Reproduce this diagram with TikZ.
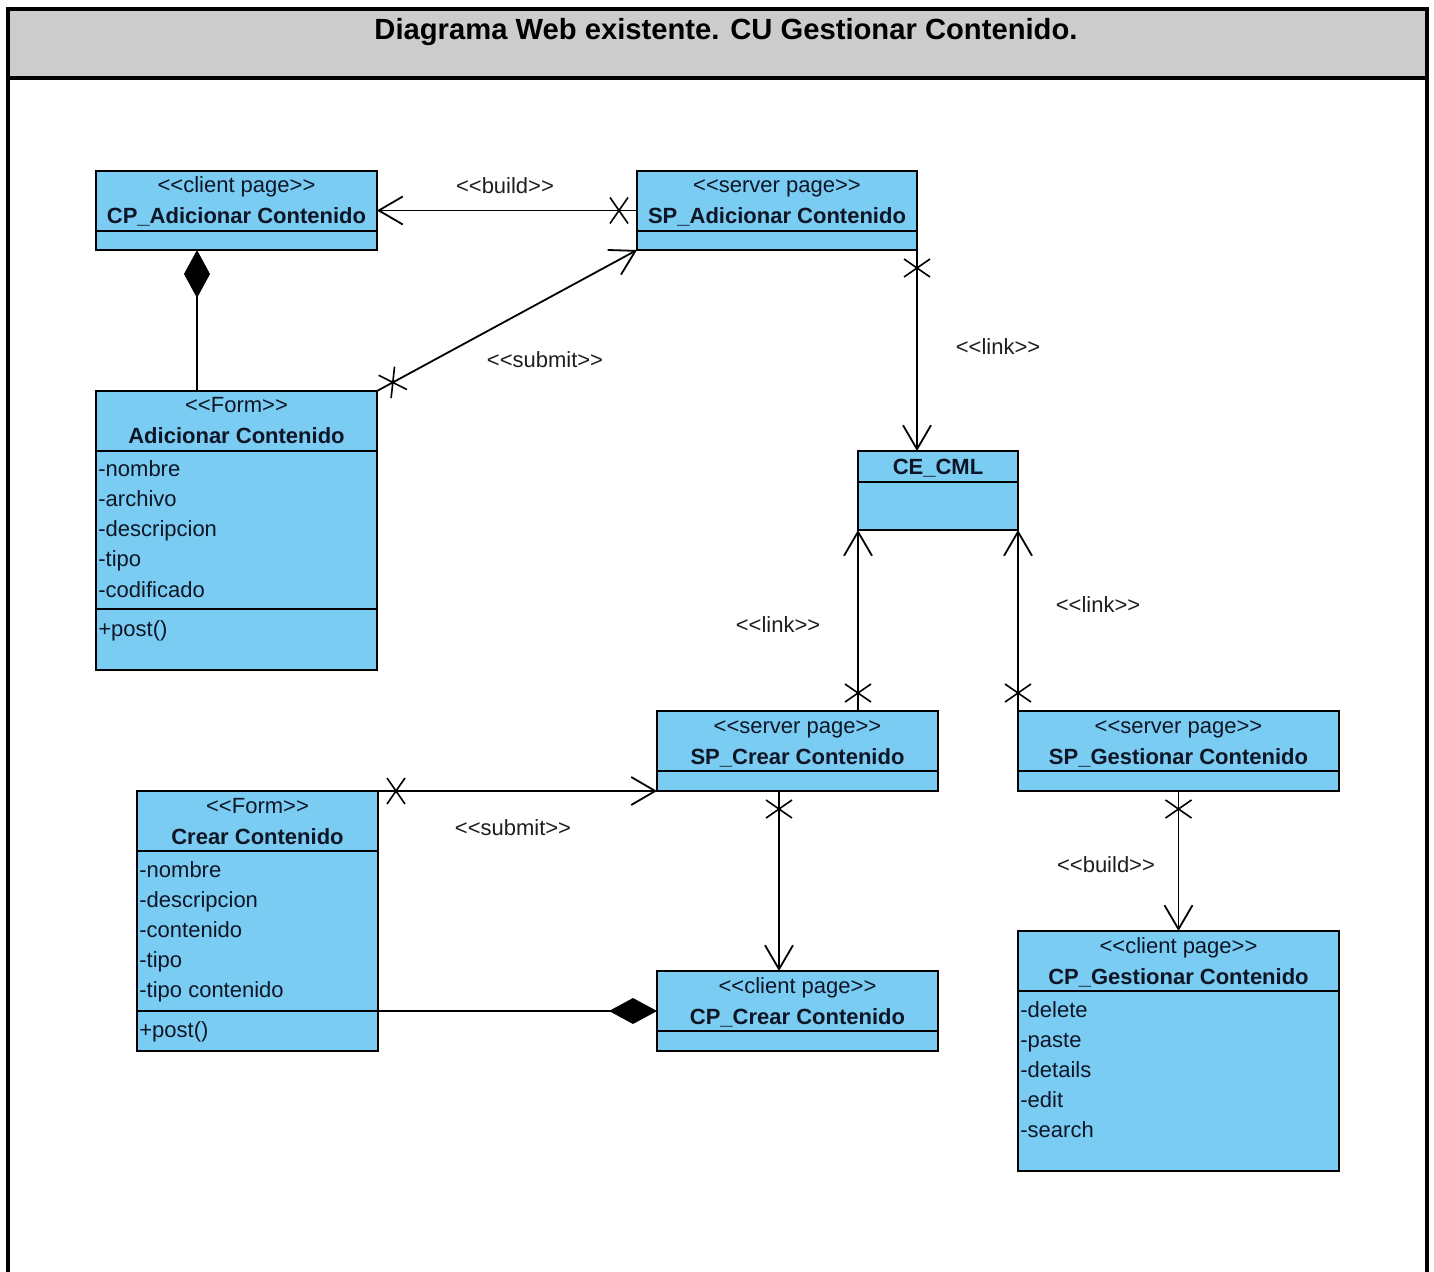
\documentclass[tikz,border=0pt]{standalone}
\usepackage{fontspec}
\setmainfont{Liberation Sans}
\usetikzlibrary{arrows.meta,fit,decorations.markings,calc}

\definecolor{boxblue}{RGB}{122,204,242}
\definecolor{boxtext}{RGB}{14,22,38}
\definecolor{lbltext}{RGB}{30,30,30}
\definecolor{titlegray}{RGB}{204,204,204}

% stereotype brackets, kept apart so they are not turned into guillemets
\newcommand{\sttext}[1]{<{}<#1>{}>}

\begin{document}
\begin{tikzpicture}[
  x=0.5pt, y=-0.5pt,
  box/.style={draw=black, line width=1pt, fill=boxblue, inner sep=0pt, outer sep=0pt, rectangle},
  sepline/.style={line width=1pt},
  stereo/.style={anchor=base, inner sep=0pt, text=boxtext, font=\fontsize{11}{13}\selectfont},
  cname/.style={anchor=base, inner sep=0pt, text=boxtext, font=\bfseries\fontsize{11}{13}\selectfont},
  attr/.style={anchor=base west, inner sep=0pt, text=boxtext, font=\fontsize{11}{13}\selectfont},
  lbl/.style={inner sep=0pt, text=lbltext, font=\fontsize{11}{13}\selectfont},
  conn/.style={line width=0.9pt, -{Straight Barb[length=12pt,width=14pt]}},
  comp/.style={line width=0.9pt, {Diamond[length=24pt,width=13pt]}-},
  xmark/.style={postaction={decorate, decoration={markings,
      mark=at position 9pt with {\draw[-, line width=0.8pt] (-4.5pt,-6.5pt) -- (4.5pt,6.5pt) (-4.5pt,6.5pt) -- (4.5pt,-6.5pt);}}}},
]
\useasboundingbox (0,0) rectangle (1434,1272);
\clip (0,0) rectangle (1434,1272);

% frame and title bar
\fill[titlegray] (8,9) rectangle (1427,78);
\draw[line width=2pt, line join=miter] (8,1300) -- (8,9) -- (1427,9) -- (1427,1300);
\draw[line width=2pt] (8,78) -- (1427,78);
\node[anchor=base, inner sep=0pt, font=\bfseries\fontsize{14.6}{17}\selectfont] (title) at (726,40)
  {Diagrama Web existente. CU Gestionar Contenido.};

% CP_Adicionar Contenido
\node[box, fit={(96,171)(377,250)}] (cpadd) {};
\draw[sepline] (96,231) -- (377,231);
\node[stereo] (cpadd-s) at (236.5,193) {\sttext{client page}};
\node[cname] (cpadd-n) at (236.5,224) {CP\_Adicionar Contenido};

% SP_Adicionar Contenido
\node[box, fit={(637,171)(917,250)}] (spadd) {};
\draw[sepline] (637,231) -- (917,231);
\node[stereo] (spadd-s) at (777,193) {\sttext{server page}};
\node[cname] (spadd-n) at (777,224) {SP\_Adicionar Contenido};

% Form Adicionar Contenido
\node[box, fit={(96,391)(377,670)}] (formadd) {};
\draw[sepline] (96,451) -- (377,451);
\draw[sepline] (96,609) -- (377,609);
\node[stereo] (formadd-s) at (236.5,413) {\sttext{Form}};
\node[cname] (formadd-n) at (236.5,444) {Adicionar Contenido};
\node[attr] (fa1) at (98,477) {-nombre};
\node[attr] (fa2) at (98,507) {-archivo};
\node[attr] (fa3) at (98,537) {-descripcion};
\node[attr] (fa4) at (98,567) {-tipo};
\node[attr] (fa5) at (98,597) {-codificado};
\node[attr] (fa6) at (98,636) {+post()};

% CE_CML
\node[box, fit={(858,451)(1018,530)}] (cecml) {};
\draw[sepline] (858,482) -- (1018,482);
\node[cname] (cecml-n) at (938,475) {CE\_CML};

% SP_Crear Contenido
\node[box, fit={(657,711)(938,791)}] (spcrear) {};
\draw[sepline] (657,771) -- (938,771);
\node[stereo] (spcrear-s) at (797.5,733) {\sttext{server page}};
\node[cname] (spcrear-n) at (797.5,764) {SP\_Crear Contenido};

% SP_Gestionar Contenido
\node[box, fit={(1018,711)(1339,791)}] (spgest) {};
\draw[sepline] (1018,771) -- (1339,771);
\node[stereo] (spgest-s) at (1178.5,733) {\sttext{server page}};
\node[cname] (spgest-n) at (1178.5,764) {SP\_Gestionar Contenido};

% Form Crear Contenido
\node[box, fit={(137,791)(378,1051)}] (formcrear) {};
\draw[sepline] (137,851) -- (378,851);
\draw[sepline] (137,1011) -- (378,1011);
\node[stereo] (formcrear-s) at (257.5,813) {\sttext{Form}};
\node[cname] (formcrear-n) at (257.5,844) {Crear Contenido};
\node[attr] (fc1) at (139,877) {-nombre};
\node[attr] (fc2) at (139,907) {-descripcion};
\node[attr] (fc3) at (139,937) {-contenido};
\node[attr] (fc4) at (139,967) {-tipo};
\node[attr] (fc5) at (139,997) {-tipo contenido};
\node[attr] (fc6) at (139,1037) {+post()};

% CP_Crear Contenido
\node[box, fit={(657,971)(938,1051)}] (cpcrear) {};
\draw[sepline] (657,1031) -- (938,1031);
\node[stereo] (cpcrear-s) at (797.5,993) {\sttext{client page}};
\node[cname] (cpcrear-n) at (797.5,1024) {CP\_Crear Contenido};

% CP_Gestionar Contenido
\node[box, fit={(1018,931)(1339,1171)}] (cpgest) {};
\draw[sepline] (1018,991) -- (1339,991);
\node[stereo] (cpgest-s) at (1178.5,953) {\sttext{client page}};
\node[cname] (cpgest-n) at (1178.5,984) {CP\_Gestionar Contenido};
\node[attr] (cg1) at (1020,1017) {-delete};
\node[attr] (cg2) at (1020,1047) {-paste};
\node[attr] (cg3) at (1020,1077) {-details};
\node[attr] (cg4) at (1020,1107) {-edit};
\node[attr] (cg5) at (1020,1137) {-search};

% connector columns
\coordinate (c1) at (197,0);
\coordinate (b2) at (779,0);

% connectors
\draw[conn, xmark] (spadd.west) -- (cpadd.east);
\draw[comp] (c1 |- cpadd.south) -- (c1 |- formadd.north);
\draw[conn, xmark] (formadd.north east) -- (spadd.south west);
\draw[conn, xmark] (spadd.south east) -- (spadd.south east |- cecml.north);
\draw[conn, xmark] (spcrear.north -| cecml.south west) -- (cecml.south west);
\draw[conn, xmark] (spgest.north west) -- (cecml.south east);
\draw[conn, xmark] (formcrear.north east) -- (spcrear.south west);
\draw[comp] (cpcrear.west) -- (formcrear.east |- cpcrear.west);
\draw[conn, xmark] (b2 |- spcrear.south) -- (b2 |- cpcrear.north);
\draw[conn, xmark] (spgest.south) -- (cpgest.north);

% connector labels
\node[lbl] (l1) at (505,186) {\sttext{build}};
\node[lbl] (l2) at (545,360) {\sttext{submit}};
\node[lbl] (l3) at (998,347) {\sttext{link}};
\node[lbl] (l4) at (778,625) {\sttext{link}};
\node[lbl] (l5) at (1098,605) {\sttext{link}};
\node[lbl] (l6) at (513,828) {\sttext{submit}};
\node[lbl] (l7) at (1106,865) {\sttext{build}};
\end{tikzpicture}
\end{document}
